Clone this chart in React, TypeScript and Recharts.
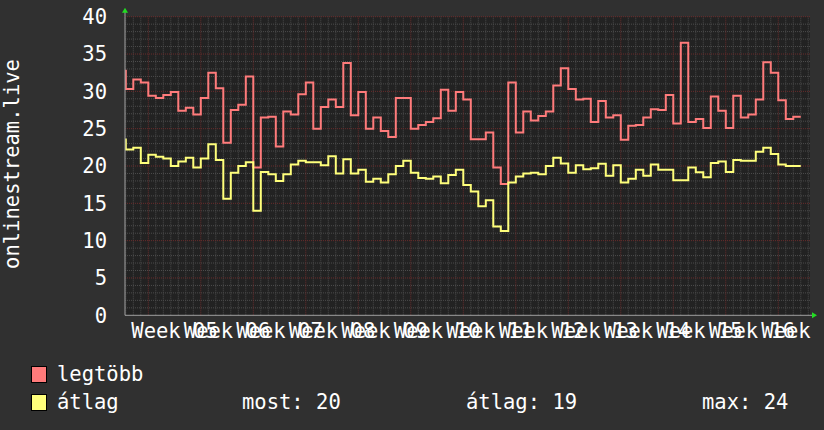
import React from "react";
import {
  CartesianGrid,
  Label,
  Line,
  LineChart,
  ReferenceDot,
  ReferenceLine,
  XAxis,
  YAxis,
} from "recharts";

// daily values, one per day (value belongs to the day ending at t)
const maxValues = [
  32.9, 30.3, 31.6, 31.2, 29.4, 29.1, 29.5, 29.9, 27.4, 27.8, 26.9, 29.1, 32.5,
  30.4, 23.1, 27.5, 28.2, 32.0, 19.8, 26.5, 26.6, 22.6, 27.3, 26.9, 29.6, 31.2,
  25.0, 27.9, 28.9, 27.9, 33.8, 26.8, 29.9, 25.0, 26.5, 24.7, 23.9, 29.1, 29.1,
  25.0, 25.5, 25.9, 26.4, 30.2, 27.4, 29.9, 28.9, 23.6, 23.6, 24.5, 19.8, 17.6,
  31.2, 24.5, 27.3, 26.1, 26.7, 27.3, 30.8, 33.1, 30.3, 28.9, 29.0, 25.9, 28.7,
  26.5, 26.8, 23.5, 25.4, 25.5, 26.5, 27.6, 27.5, 29.5, 25.7, 36.5, 25.9, 26.3,
  25.1, 29.3, 27.4, 25.1, 29.4, 26.5, 26.9, 28.9, 33.9, 32.5, 28.8, 26.3, 26.6,
];

const avgValues = [
  23.7, 22.2, 22.45, 20.4, 21.5, 21.25, 21.0, 20.0, 20.6, 21.1, 19.8, 21.0, 22.9,
  20.8, 15.6, 19.1, 20.0, 20.5, 14.0, 19.2, 18.9, 18.0, 18.9, 20.2, 20.7, 20.5,
  20.5, 20.1, 21.3, 19.0, 20.9, 19.0, 19.5, 17.9, 18.3, 17.8, 18.9, 20.0, 20.7,
  19.1, 18.4, 18.3, 18.6, 17.7, 18.8, 19.5, 17.45, 16.6, 14.6, 15.4, 11.9, 11.3,
  17.8, 18.6, 19.0, 19.1, 18.9, 20.0, 21.1, 20.35, 19.1, 20.1, 19.55, 19.7, 20.3,
  18.7, 20.1, 17.8, 18.3, 19.5, 18.7, 20.2, 19.5, 19.5, 18.1, 18.1, 19.8, 19.15,
  18.5, 20.4, 20.6, 19.2, 20.8, 20.7, 20.7, 21.9, 22.45, 21.6, 20.2, 20.0, 20.0,
];

const weekLabels = [
  "Week 05", "Week 06", "Week 07", "Week 08", "Week 09", "Week 10", "Week 11",
  "Week 12", "Week 13", "Week 14", "Week 15", "Week 16", "Week 17",
];
const weekLabelDays = weekLabels.map((_, i) => 6.5 + 7 * i);
const weekStartDays = weekLabels.map((_, i) => 3 + 7 * i);

const yTicks = [0, 5, 10, 15, 20, 25, 30, 35, 40];
const minorY = Array.from({ length: 40 }, (_, i) => i + 1).filter((v) => v % 5 !== 0);
const majorY = [5, 10, 15, 20, 25, 30, 35, 40];
const minorX = Array.from({ length: 92 }, (_, i) => i).filter(
  (d) => !weekStartDays.includes(d)
);

const xDomain: [number, number] = [-0.107, 91.23];

const data = maxValues.map((v, i) => ({ t: i, max: v, avg: avgValues[i] }));

const font = "'DejaVu Sans Mono', monospace";
const fontSize = 20.5;
const textColor = "#ffffff";
const minorColor = "#4c4c4c";
const majorColor = "#6a2c2c";

const UpArrow = (p: any) => (
  <g>
    <line x1={p.cx} y1={p.cy} x2={p.cx} y2={p.cy - 5} stroke="#a0a0a0" />
    <polygon
      points={`${p.cx - 3},${p.cy - 4} ${p.cx + 3},${p.cy - 4} ${p.cx},${p.cy - 9}`}
      fill="#22dd22"
    />
  </g>
);

const RightArrow = (p: any) => (
  <g>
    <line x1={p.cx} y1={p.cy} x2={p.cx + 3} y2={p.cy} stroke="#a0a0a0" />
    <polygon
      points={`${p.cx + 2},${p.cy - 3} ${p.cx + 2},${p.cy + 3} ${p.cx + 7},${p.cy}`}
      fill="#22dd22"
    />
  </g>
);

const lastAvg = avgValues[avgValues.length - 1];
const meanAvg = avgValues.reduce((a, b) => a + b, 0) / avgValues.length;
const maxAvg = Math.max(...avgValues);

const legendText: React.CSSProperties = {
  position: "absolute",
  fontFamily: font,
  fontSize,
  color: textColor,
  whiteSpace: "pre",
  lineHeight: "24px",
};

const swatch = (color: string, top: number): React.CSSProperties => ({
  position: "absolute",
  left: 31,
  top,
  width: 14,
  height: 15,
  background: color,
  border: "1px solid #000",
});

export default function App() {
  return (
    <div
      style={{
        position: "fixed",
        left: 0,
        top: 0,
        width: 824,
        height: 430,
        background: "#303030",
      }}
    >
      <LineChart
        width={824}
        height={430}
        data={data}
        margin={{ top: 16.7, right: 14, bottom: 84.7, left: 65 }}
      >
        <CartesianGrid fill="#222222" horizontal={false} vertical={false} />
        {minorY.map((v) => (
          <ReferenceLine key={`hy${v}`} y={v} stroke={minorColor} strokeDasharray="1 1" />
        ))}
        {minorX.map((d) => (
          <ReferenceLine key={`vx${d}`} x={d} stroke={minorColor} strokeDasharray="1 1" />
        ))}
        {majorY.map((v) => (
          <ReferenceLine key={`my${v}`} y={v} stroke={majorColor} strokeDasharray="1 1" />
        ))}
        {weekStartDays.map((d) => (
          <ReferenceLine key={`mx${d}`} x={d} stroke={majorColor} strokeDasharray="1 1" />
        ))}
        <XAxis
          dataKey="t"
          type="number"
          domain={xDomain}
          allowDataOverflow
          ticks={weekLabelDays}
          interval={0}
          tickFormatter={(_v: number, i: number) => weekLabels[i]}
          tickLine={false}
          tickSize={0}
          tickMargin={8}
          height={30}
          axisLine={{ stroke: "#a0a0a0" }}
          tick={{ fill: textColor, fontSize, fontFamily: font }}
        />
        <YAxis
          type="number"
          domain={[0, 40]}
          ticks={yTicks}
          interval={0}
          tickLine={false}
          tickSize={0}
          tickMargin={18}
          width={60}
          axisLine={{ stroke: "#a0a0a0" }}
          tick={{ fill: textColor, fontSize, fontFamily: font }}
        >
          <Label
            content={({ viewBox }: any) => {
              const cy = viewBox.y + viewBox.height / 2 - 2;
              return (
                <text
                  x={19}
                  y={cy}
                  transform={`rotate(-90, 19, ${cy})`}
                  textAnchor="middle"
                  fill={textColor}
                  fontSize={fontSize}
                  fontFamily={font}
                >
                  onlinestream.live
                </text>
              );
            }}
          />
        </YAxis>
        <Line
          dataKey="max"
          type="stepBefore"
          stroke="#ff7b7b"
          strokeWidth={2}
          dot={false}
          isAnimationActive={false}
        />
        <Line
          dataKey="avg"
          type="stepBefore"
          stroke="#ffff7b"
          strokeWidth={2}
          dot={false}
          isAnimationActive={false}
        />
        <ReferenceDot x={xDomain[0]} y={40} r={0} ifOverflow="visible" shape={UpArrow} />
        <ReferenceDot x={xDomain[1]} y={0} r={0} ifOverflow="visible" shape={RightArrow} />
      </LineChart>

      <div style={swatch("#ff7b7b", 366)} />
      <div style={{ ...legendText, left: 57, top: 362 }}>legtöbb</div>
      <div style={swatch("#ffff7b", 394)} />
      <div style={{ ...legendText, left: 57, top: 390 }}>átlag</div>
      <div style={{ ...legendText, left: 242, top: 390 }}>
        {`most: ${lastAvg.toFixed(0)}`}
      </div>
      <div style={{ ...legendText, left: 466, top: 390 }}>
        {`átlag: ${meanAvg.toFixed(0)}`}
      </div>
      <div style={{ ...legendText, left: 702, top: 390 }}>
        {`max: ${maxAvg.toFixed(0)}`}
      </div>
    </div>
  );
}
